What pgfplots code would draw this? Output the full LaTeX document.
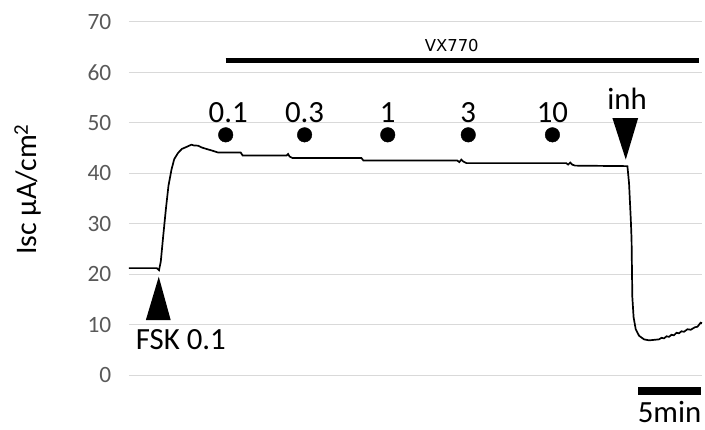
\documentclass[border=0pt]{standalone}
\usepackage{fontspec}
\setmainfont{Carlito}
\newfontfamily\dejavu{DejaVu Sans}
\usepackage{pgfplots}
\pgfplotsset{compat=1.18}
\definecolor{gridgray}{HTML}{D9D9D9}
\definecolor{ticktext}{HTML}{595959}
\begin{document}
\begin{tikzpicture}
\begin{axis}[
  scale only axis,
  width=574bp, height=354bp,
  xmin=0, xmax=45.56,
  ymin=0, ymax=70,
  ytick={0,10,20,30,40,50,60,70},
  xtick=\empty,
  ymajorgrids,
  major grid style={gridgray, line width=1.3bp},
  axis line style={draw=none},
  major tick length=0pt,
  /pgf/number format/assume math mode=true,
  yticklabel style={font=\fontsize{23.5}{27}\selectfont, text=ticktext, xshift=-14bp},
  clip=false,
]
% trace
\addplot[black, line width=1.7bp, mark=none] coordinates {
(0,21.2) (2.22,21.2) (2.40,20.8) (2.54,22.5) (2.75,28.0) (2.95,33.0) (3.15,37.5) (3.39,40.7)
(3.61,42.8) (3.91,44.0) (4.21,44.8) (4.58,45.2) (4.98,45.65) (5.16,45.5) (5.50,45.45)
(5.79,45.1) (6.17,44.8) (6.59,44.5) (7.09,44.1) (8.89,44.1) (9.05,43.5) (12.54,43.5)
(12.66,43.8) (12.78,43.3) (13.02,43.0) (18.49,43.0) (18.65,42.5) (26.11,42.5) (26.27,42.2)
(26.43,42.7) (26.59,42.3) (26.83,42.0) (34.76,42.0) (34.92,41.7) (35.08,42.1) (35.24,41.7)
(35.48,41.5) (39.63,41.4) (39.76,38) (39.90,30.8) (39.96,26.9) (40.02,15.5) (40.12,11.5)
(40.29,9.1) (40.56,7.8) (40.95,7.1) (41.35,6.9) (41.75,7.0) (42.14,7.1) (42.34,7.4) (42.54,7.3)
(42.74,7.7) (42.94,7.6) (43.13,8.0) (43.33,7.9) (43.53,8.4) (43.73,8.3) (43.93,8.7) (44.13,8.6)
(44.40,9.1) (44.66,9.0) (45.0,9.5) (45.2,9.6) (45.45,10.4) (45.56,10.3)
};
% dose dots
\addplot[only marks, mark=*, mark size=7.3bp, black] coordinates {
(7.70,47.6) (13.97,47.6) (20.58,47.6) (26.98,47.6) (33.67,47.6)
};
% dose labels
\node[anchor=base, font=\fontsize{31}{36}\selectfont, inner sep=0pt] at (axis cs:7.9,50) {0.1};
\node[anchor=base, font=\fontsize{31}{36}\selectfont, inner sep=0pt] at (axis cs:13.97,50) {0.3};
\node[anchor=base, font=\fontsize{31}{36}\selectfont, inner sep=0pt] at (axis cs:20.58,50) {1};
\node[anchor=base, font=\fontsize{31}{36}\selectfont, inner sep=0pt] at (axis cs:26.98,50) {3};
\node[anchor=base, font=\fontsize{31}{36}\selectfont, inner sep=0pt] at (axis cs:33.67,50) {10};
% inh
\fill[black] (axis cs:38.44,50.9) -- (axis cs:40.48,50.9) -- (axis cs:39.5,42.7) -- cycle;
\node[anchor=base, font=\fontsize{31}{36}\selectfont, inner sep=0pt] at (axis cs:39.6,52.6) {inh};
% FSK
\fill[black] (axis cs:1.35,10.9) -- (axis cs:3.33,10.9) -- (axis cs:2.38,19.5) -- cycle;
\node[anchor=base west, font=\fontsize{31}{36}\selectfont, inner sep=0pt] at (axis cs:0.55,5.1) {FSK 0.1};
% VX770 bar
\draw[black, line width=5bp] (axis cs:7.70,62.3) -- (axis cs:45.3,62.3);
\node[anchor=base, font=\dejavu\fontsize{16.5}{20}\selectfont, inner sep=0pt] at (axis cs:25.67,64.1) {VX770};
% scale bar
\draw[black, line width=8bp] (axis cs:40.48,-3.1) -- (axis cs:45.48,-3.1);
\node[anchor=base, font=\fontsize{31}{36}\selectfont, inner sep=0pt] at (axis cs:42.98,-9.3) {5min};
% y label
\node[rotate=90, font=\fontsize{30}{36}\selectfont, inner sep=0pt] at (axis cs:-8.02,36.8) {Isc µA/cm\textsuperscript{2}};
% bounding box
\path (axis cs:-10.24,-10.8) rectangle (axis cs:45.71,74.3);
\end{axis}
\end{tikzpicture}
\end{document}
